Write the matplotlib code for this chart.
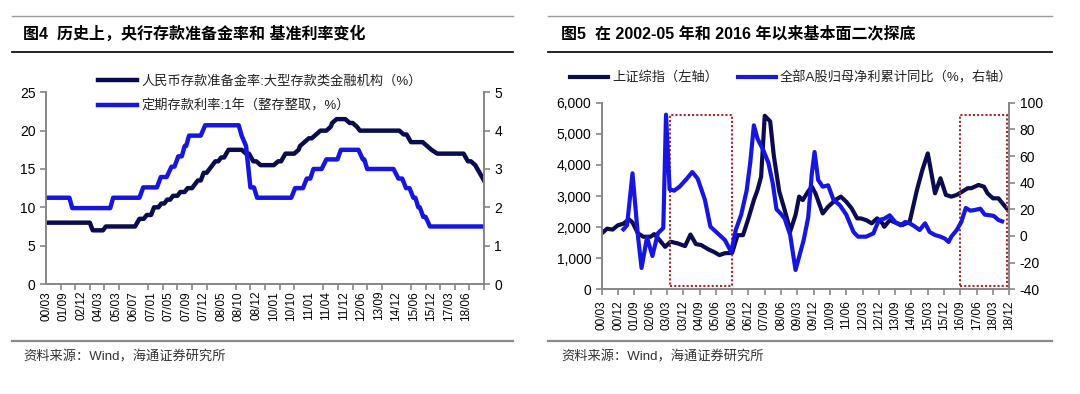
import numpy as np
import matplotlib
matplotlib.use('Agg')
import matplotlib.pyplot as plt
from matplotlib.patches import Rectangle
from matplotlib.lines import Line2D
from matplotlib.ticker import FuncFormatter

plt.rcParams['font.family'] = ['Liberation Sans', 'Noto Sans CJK SC']
plt.rcParams['axes.unicode_minus'] = False

# ---- 图4: category axis (dates of rate changes), values at change vertices
rrr_idx = [0, 15, 16, 19.5, 20.5, 30.5, 32, 33.5, 34.5, 36, 37, 38.5, 39.5, 40.5, 41.5, 42.5, 43.5, 45,
           46, 47.5, 48.5, 50, 51, 52, 53, 54, 55, 56, 57, 58, 59, 60, 61, 62.5, 67, 68.5, 69.5, 71, 72,
           73.5, 78, 79.5, 80.5, 82, 85, 86.5, 87, 88.5, 90, 91, 92.5, 94, 96, 97.5, 98, 99.5, 102.5,
           104, 105, 106.5, 107.5, 121, 122.5, 123.5, 125, 129, 130.5, 132, 134, 143, 144.5, 145.5,
           147, 148.5, 150]
rrr_val = [8, 8, 7, 7, 7.5, 7.5, 8.5, 8.5, 9, 9, 10, 10, 10.5, 10.5, 11, 11, 11.5, 11.5,
           12, 12, 12.5, 12.5, 13, 13.5, 13.5, 14.5, 14.5, 15, 15.5, 16, 16, 16.5, 16.5, 17.5, 17.5, 17, 17, 16, 16,
           15.5, 15.5, 16, 16, 17, 17, 17.5, 18, 18.5, 19, 19, 19.5, 20, 20, 20.5, 21, 21.5, 21.5,
           21, 21, 20.5, 20, 20, 19.5, 19.5, 18.5, 18.5, 18, 17.5, 17, 17, 16, 16,
           15.5, 14.5, 13.5]

dep_idx = [0, 8, 9, 22, 23, 32, 33.3, 38, 39.3, 41.3, 43, 44, 45.3, 46.5, 47.5, 48, 49, 53, 54.5, 66,
           67, 68.5, 70, 71.2, 72.3, 84, 85.3, 88, 89.3, 90.5, 91.6, 94.4, 96, 99.8, 101, 107, 108.5,
           109, 110, 119, 120.7, 122, 123.3, 124.5, 125.8, 126.5, 127.5, 128, 129.2, 130, 131.5, 150]
dep_val = [2.25, 2.25, 1.98, 1.98, 2.25, 2.25, 2.52, 2.52, 2.79, 2.79, 3.06, 3.06, 3.33, 3.33, 3.6, 3.6,
           3.87, 3.87, 4.14, 4.14, 3.87, 3.6, 2.52, 2.52, 2.25, 2.25, 2.5, 2.5, 2.75, 2.75, 3.0, 3.0,
           3.25, 3.25, 3.5, 3.5, 3.25, 3.25, 3.0, 3.0, 2.75, 2.75, 2.5, 2.5, 2.25, 2.25, 2.0, 2.0,
           1.75, 1.75, 1.5, 1.5]

fig4_labels = ['00/03', '01/09', '02/12', '04/03', '05/03', '06/07', '07/01', '07/05', '07/09',
               '07/12', '08/05', '08/10', '08/12', '10/01', '10/10', '11/01', '11/04', '11/12',
               '12/06', '13/09', '14/12', '15/06', '15/12', '17/03', '18/06']

# ---- 图5: months since 2000/03
sh_month = [0, 3, 6, 9, 12, 15, 17, 20, 23, 27, 29, 32, 35, 38, 42, 46, 49, 52, 55, 59, 62, 65, 68, 72,
            75, 78, 81, 84, 86, 88, 90, 93, 95, 98, 101, 103, 104, 107, 109, 111, 114, 116, 118, 122,
            125, 129, 132, 135, 138, 141, 143, 146, 149, 152, 155, 156, 159, 163, 166, 170, 174, 177,
            180, 184, 187, 190, 193, 196, 199, 202, 204, 208, 211, 213, 216, 219, 222, 225]
sh_val = [1800, 1950, 1920, 2060, 2110, 2250, 2150, 1800, 1690, 1690, 1775, 1580, 1365, 1530, 1475,
          1390, 1760, 1455, 1420, 1280, 1200, 1100, 1160, 1170, 1740, 1740, 2280, 2870, 3190, 3620,
          5580, 5400, 4300, 3150, 2550, 2120, 1850, 2390, 2980, 2870, 3150, 3300, 3085, 2440, 2655,
          2870, 2980, 2815, 2600, 2280, 2280, 2225, 2120, 2280, 2120, 2010, 2225, 2120, 2065, 2170,
          3190, 3835, 4370, 3085, 3570, 3035, 2980, 3035, 3140, 3250, 3250, 3355, 3300, 3085, 2925,
          2925, 2710, 2500]

np_month = [12, 14, 17, 20, 22, 25, 28, 31, 34, 35.5, 37.5, 40, 43, 47, 50, 53, 57, 60, 64, 68, 71.5,
            74, 77, 80, 82, 84, 86, 89, 92, 94.5, 96.5, 99, 101, 104, 107, 109.5, 111.5, 114, 116,
            117.5, 119.5, 122, 125, 128, 131.5, 135, 139, 141.5, 146, 150, 153, 156, 159, 162, 165,
            167.5, 170, 173, 175.5, 178.5, 181, 184, 187, 189.5, 191.5, 193, 196, 198.5, 201, 203.5,
            206, 209, 211.5, 214.5, 216.5, 219, 221]
np_val = [5, 8, 47, 0, -24, -1, -15, 2, 6, 91, 35, 34, 37, 43, 48, 43, 27, 7, 2, -3, -12,
          4.5, 16, 34, 55, 83, 73, 65, 55, 39, 20, 16.5, 13, 1, -25.5, -13, -3, 14, 47,
          63, 42, 37, 38, 27, 23, 16, 3, -0.5, -0.5, 2, 12, 13, 15.5, 10.5, 8,
          10.5, 9.5, 7, 4.5, 9.5, 3, 0.7, -0.5, -2, -4.5, -0.5, 4.5, 10.5, 21, 19,
          19.5, 20.5, 16, 15.5, 15, 12, 11]

fig5_labels = ['00/03', '00/12', '01/09', '02/06', '03/03', '03/12', '04/09', '05/06', '06/03',
               '06/12', '07/09', '08/06', '09/03', '09/12', '10/09', '11/06', '12/03', '12/12',
               '13/09', '14/06', '15/03', '15/12', '16/09', '17/06', '18/03', '18/12']

# highlighted periods (months since 2000/03, left-axis range)
box_months = [(37.7, 72), (198, 224)]
box_range = (110, 5610)

DARK = '#0B0B50'
BLUE = '#1616E0'
GRAY = '#868686'

W, H = 1080, 394
fig = plt.figure(figsize=(W / 100, H / 100), dpi=100)


def fx(x):
    return x / W


def fy(y):
    return 1 - y / H


def rule(x0, x1, y, color, lw):
    fig.add_artist(Line2D([fx(x0), fx(x1)], [fy(y), fy(y)], transform=fig.transFigure,
                          color=color, lw=lw))


def style_axes(ax, axr):
    for a in (ax, axr):
        a.spines['top'].set_visible(False)
        for s in ('left', 'right', 'bottom'):
            a.spines[s].set_color(GRAY)
            a.spines[s].set_linewidth(1.2)
        a.tick_params(axis='y', colors=GRAY, labelcolor='black', labelsize=10, length=4, width=1.2)
        a.tick_params(axis='x', colors=GRAY, labelcolor='black', labelsize=8.5, width=1.2)


# ---------- 图4 ----------
ax4 = fig.add_axes([fx(46), fy(284), fx(484) - fx(46), fy(92.3) - fy(284)])
ax4r = ax4.twinx()
l1, = ax4.plot(rrr_idx, rrr_val, color=DARK, lw=3.2, solid_joinstyle='round')
l2, = ax4r.plot(dep_idx, dep_val, color=BLUE, lw=3.2, solid_joinstyle='round')
ax4.set_xlim(0, 150)
ax4.set_ylim(0, 25)
ax4r.set_ylim(0, 5)
ax4.set_yticks(range(0, 26, 5))
ax4r.set_yticks(range(0, 6))
ax4.set_xticks(np.arange(len(fig4_labels)) * 6)
ax4.set_xticklabels(fig4_labels, rotation=90)
ax4.set_xticks(range(0, 151, 5), minor=True)
style_axes(ax4, ax4r)
ax4.tick_params(axis='x', which='major', length=0, pad=5)
ax4.tick_params(axis='x', which='minor', length=4, width=1.2, color=GRAY)

fig.legend([l1, l2], ['人民币存款准备金率:大型存款类金融机构（%）', '定期存款利率:1年（整存整取，%）'],
           loc='upper left', bbox_to_anchor=(fx(86), fy(63)), frameon=False, fontsize=9.5,
           handlelength=3.0, handletextpad=0.3, labelspacing=0.9, labelcolor='#222222')

# ---------- 图5 ----------
ax5 = fig.add_axes([fx(601.7), fy(289.3), fx(1009.3) - fx(601.7), fy(102.7) - fy(289.3)])
ax5r = ax5.twinx()
s1, = ax5.plot(sh_month, sh_val, color=DARK, lw=3.0, solid_joinstyle='round')
s2, = ax5r.plot(np_month, np_val, color=BLUE, lw=3.0, solid_joinstyle='round')
ax5.set_xlim(0, 225)
ax5.set_ylim(0, 6000)
ax5r.set_ylim(-40, 100)
ax5.set_yticks(range(0, 6001, 1000))
ax5.yaxis.set_major_formatter(FuncFormatter(lambda v, p: f'{int(v):,}'))
ax5r.set_yticks(range(-40, 101, 20))
ax5.set_xticks(np.arange(len(fig5_labels)) * 9)
ax5.set_xticklabels(fig5_labels, rotation=90)
style_axes(ax5, ax5r)
ax5.tick_params(axis='x', length=4, pad=4)

for m0, m1 in box_months:
    ax5.add_patch(Rectangle((m0, box_range[0]), m1 - m0, box_range[1] - box_range[0], fill=False,
                            ls=(0, (1, 1)), lw=1.5, edgecolor='#A52A2A', zorder=5))

fig.legend([s1, s2], ['上证综指（左轴）', '全部A股归母净利累计同比（%，右轴）'],
           loc='upper left', bbox_to_anchor=(fx(558), fy(59)), frameon=False, fontsize=9.5, ncol=2,
           handlelength=2.9, handletextpad=0.3, columnspacing=1.5, labelcolor='#222222')

# ---------- titles, rules, sources ----------
for x0, x1, tx in [(12, 513, 23), (548, 1052, 561)]:
    rule(x0, x1, 16, '#9A9A9A', 1.0)
    rule(x0, x1, 52, '#111111', 1.3)
    rule(x0, x1, 341, '#8A8A8A', 1.6)
    fig.text(fx(tx), fy(357), '资料来源：Wind，海通证券研究所', fontsize=9.5, va='center',
             color='#333333')

fig.text(fx(23), fy(34), '图4  历史上，央行存款准备金率和 基准利率变化', fontsize=11.5,
         fontweight='bold', va='center')
fig.text(fx(561), fy(34), '图5  在 2002-05 年和 2016 年以来基本面二次探底', fontsize=11.5,
         fontweight='bold', va='center')

fig.savefig('out.png', dpi=100)
